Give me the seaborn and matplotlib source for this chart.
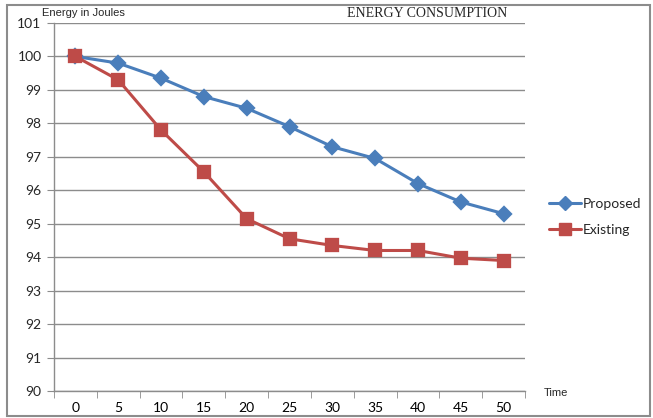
import matplotlib
matplotlib.use("Agg")
import matplotlib.pyplot as plt
import pandas as pd
import seaborn as sns
from matplotlib.lines import Line2D
from matplotlib.patches import Rectangle

time = [0, 5, 10, 15, 20, 25, 30, 35, 40, 45, 50]
proposed = [100, 99.8, 99.35, 98.8, 98.45, 97.9, 97.3, 96.95, 96.2, 95.65, 95.3]
existing = [100, 99.3, 97.8, 96.55, 95.15, 94.55, 94.35, 94.2, 94.2, 93.97, 93.9]
series_names = ["Proposed", "Existing"]
colors = ["#4A7EBB", "#BE4B48"]
markers = ["D", "s"]

df = pd.DataFrame({
    "Time": [str(t) for t in time] * 2,
    "Energy": proposed + existing,
    "Series": ["Proposed"] * len(time) + ["Existing"] * len(time),
})

sns.set_style("white")
plt.rcParams["font.family"] = ["Lato", "DejaVu Sans"]

fig = plt.figure(figsize=(6.53, 4.18), dpi=100)
ax = fig.add_axes([0.0827, 0.0646, 0.7213, 0.8804])

for name, col, mk in zip(series_names, colors, markers):
    sub = df[df["Series"] == name]
    sns.pointplot(data=sub, x="Time", y="Energy", color=col, marker=mk,
                  errorbar=None, ax=ax, linewidth=2.2,
                  markersize=7 if mk == "D" else 8.5, order=[str(t) for t in time])

ax.set_xlim(-0.5, len(time) - 0.5)
ax.set_ylim(90, 101)
ax.set_yticks(range(90, 102))
ax.set_xlabel("")
ax.set_ylabel("")
ax.grid(axis="y", color="#8c8c8c", linewidth=1)
ax.set_axisbelow(True)
for s in ["top", "right"]:
    ax.spines[s].set_visible(False)
for s in ["left", "bottom"]:
    ax.spines[s].set_color("#8c8c8c")
    ax.spines[s].set_linewidth(1)

ax.set_xticks([i - 0.5 for i in range(len(time) + 1)], minor=True)
ax.tick_params(axis="x", which="major", length=0, labelsize=10, pad=8, colors="#000000")
ax.tick_params(axis="x", which="minor", length=5, color="#8c8c8c", direction="out", bottom=True)
ax.tick_params(axis="y", length=5, color="#8c8c8c", direction="out", left=True, labelsize=10, pad=4)

handles = [Line2D([0], [0], color=c, marker=m, linewidth=2.2,
                  markersize=7 if m == "D" else 8.5) for c, m in zip(colors, markers)]
ax.legend(handles, series_names, loc="center left", bbox_to_anchor=(0.822, 0.481),
          bbox_transform=fig.transFigure, frameon=False, fontsize=10,
          handlelength=2.3, handletextpad=0.1, labelspacing=0.95)

fig.text(0.064, 0.969, "Energy in Joules", fontsize=8, va="center", ha="left",
         family=["Liberation Sans"])
fig.text(0.654, 0.967, "ENERGY CONSUMPTION", fontsize=10, va="center", ha="center",
         family=["Liberation Serif"])
fig.text(0.832, 0.06, "Time", fontsize=8, va="center", ha="left",
         family=["Liberation Sans"])

fig.patches.append(Rectangle((0.011, 0.005), 0.985, 0.983, transform=fig.transFigure,
                             fill=False, edgecolor="#8c8c8c", linewidth=1.5))

fig.savefig("out.png", dpi=100)
